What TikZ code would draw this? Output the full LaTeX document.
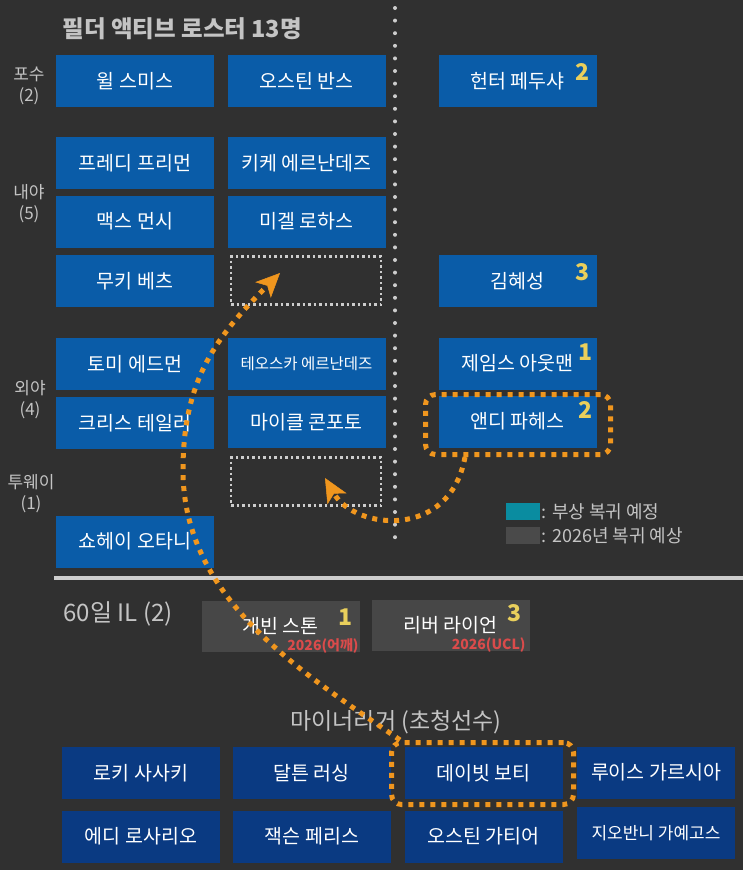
\documentclass[tikz,border=0pt]{standalone}
\usepackage{fontspec}
\setmainfont{Noto Sans CJK KR}
\usetikzlibrary{arrows.meta}
\usepackage{xcolor}

\definecolor{bgcol}{HTML}{303030}
\definecolor{rosterblue}{HTML}{0A5CA8}
\definecolor{minorblue}{HTML}{0A3A82}
\definecolor{ilgray}{HTML}{474747}
\definecolor{injteal}{HTML}{0A8CA0}
\definecolor{keygray}{HTML}{4A4A4A}
\definecolor{labelgray}{HTML}{C4C4C4}
\definecolor{numyellow}{HTML}{E9CF5C}
\definecolor{redtxt}{HTML}{DA4B4B}
\definecolor{movorange}{HTML}{F0961E}
\definecolor{linegray}{HTML}{CDCDCD}

\begin{document}
\begin{tikzpicture}[x=1pt,y=-1pt,
  player/.style={fill=rosterblue,text=white,minimum width=158pt,minimum height=52pt,inner sep=0pt,font=\fontsize{19.5}{19.5}\selectfont},
  minor/.style={player,fill=minorblue},
  ilbox/.style={player,fill=ilgray,minimum height=51pt},
  vacant/.style={draw=linegray,line width=2.5pt,dash pattern=on 2.5pt off 3pt,minimum width=150pt,minimum height=48pt},
  hlbox/.style={draw=movorange,line width=5pt,dash pattern=on 5pt off 6pt,rounded corners=10pt},
  rowlabel/.style={text=labelgray,align=center,font=\fontsize{17}{21}\selectfont},
  badge/.style={text=numyellow,inner sep=0pt,font=\fontsize{23}{23}\selectfont\bfseries},
  ilnote/.style={text=redtxt,anchor=east,inner sep=0pt,font=\fontsize{14}{14}\selectfont\bfseries},
  keytext/.style={anchor=west,text=labelgray,font=\fontsize{18}{18}\selectfont},
  movearrow/.style={draw=movorange,line width=5pt,dash pattern=on 5pt off 6pt,-{Stealth[length=24pt,width=22pt,inset=6pt,line width=0.5pt]}}]

\fill[bgcol] (0,0) rectangle (743,870);

\node[anchor=west,text=labelgray,font=\fontsize{23.5}{23.5}\selectfont\bfseries] (title) at (59,29) {필더 액티브 로스터 13명};
\draw[linegray,line width=4pt,line cap=round,dash pattern=on 0pt off 12.6pt] (395,8) -- (395,545);
\draw[linegray,line width=4pt] (54,578) -- (743,578);

\node[rowlabel] (catcher) at (29,86) {포수\\(2)};
\node[rowlabel] (infield) at (29,204) {내야\\(5)};
\node[rowlabel] (outfield) at (30,400) {외야\\(4)};
\node[rowlabel] (twoway) at (31,494) {투웨이\\(1)};

\node[player] (smith) at (135,81) {윌 스미스};
\node[player] (barnes) at (306.5,81) {오스틴 반스};
\node[player] (pedusha) at (517.5,81) {헌터 페두샤};
\node[player] (freeman) at (135,163) {프레디 프리먼};
\node[player] (kike) at (306.5,163) {키케 에르난데즈};
\node[player] (muncy) at (135,221.5) {맥스 먼시};
\node[player] (rojas) at (306.5,221.5) {미겔 로하스};
\node[player] (betts) at (135,281) {무키 베츠};
\node[vacant] (vacinf) at (306,280.5) {};
\node[player] (kim) at (517.5,281) {김혜성};
\node[player] (edman) at (135,364) {토미 에드먼};
\node[player,font=\fontsize{15.5}{15.5}\selectfont] (teoscar) at (306.5,364) {테오스카 에르난데즈};
\node[player] (outman) at (517.5,363.5) {제임스 아웃맨};
\node[player] (taylor) at (135,423) {크리스 테일러};
\node[player] (conforto) at (306.5,422) {마이클 콘포토};
\node[player] (pages) at (517.5,421.5) {앤디 파헤스};
\node[vacant] (vactwo) at (306,481.5) {};
\node[player] (ohtani) at (135,541.5) {쇼헤이 오타니};

\node[badge] (pedushanum) at ([xshift=-14pt,yshift=-17pt]pedusha.north east) {2};
\node[badge] (kimnum) at ([xshift=-14pt,yshift=-17pt]kim.north east) {3};
\node[badge] (outmannum) at ([xshift=-11pt,yshift=-15pt]outman.north east) {1};
\node[badge] (pagesnum) at ([xshift=-11pt,yshift=-15pt]pages.north east) {2};

\node[fill=injteal,minimum width=34pt,minimum height=17pt,inner sep=0pt] (keyinj) at (523,511.5) {};
\node[keytext] (keyinjtext) at ([xshift=-2pt]keyinj.east) {: 부상 복귀 예정};
\node[fill=keygray,minimum width=34pt,minimum height=17pt,inner sep=0pt] (keyret) at (523,535.5) {};
\node[keytext] (keyrettext) at ([xshift=-2pt]keyret.east) {: 2026년 복귀 예상};

\node[rowlabel,anchor=west,font=\fontsize{24}{24}\selectfont] (iltitle) at (60,614) {60일 IL (2)};
\node[ilbox] (stone) at (280.5,626.5) {개빈 스톤};
\node[ilbox] (ryan) at (450.5,625) {리버 라이언};
\node[badge] (stonenum) at ([xshift=-14pt,yshift=-16pt]stone.north east) {1};
\node[badge] (ryannum) at ([xshift=-15pt,yshift=-14pt]ryan.north east) {3};
\node[ilnote] (stonenote) at ([xshift=-1pt,yshift=6pt]stone.south east) {2026(어깨)};
\node[ilnote] (ryannote) at ([xshift=-4pt,yshift=6pt]ryan.south east) {2026(UCL)};

\node[rowlabel,font=\fontsize{23}{23}\selectfont] (minortitle) at (396,722) {마이너리거 (초청선수)};
\node[minor] (sasaki) at (141,773) {로키 사사키};
\node[minor] (rushing) at (311.5,773) {달튼 러싱};
\node[minor] (bote) at (483.5,773) {데이빗 보티};
\node[minor] (garcia) at (656,772.5) {루이스 가르시아};
\node[minor] (rosario) at (141,836.5) {에디 로사리오};
\node[minor] (ferris) at (312,836.5) {잭슨 페리스};
\node[minor] (gauthier) at (483.5,836.5) {오스틴 가티어};
\node[minor,font=\fontsize{17}{17}\selectfont] (gallegos) at (656,833) {지오반니 가예고스};

\node[hlbox,minimum width=185pt,minimum height=60pt] (pageshl) at (518,424.5) {};
\node[hlbox,minimum width=182pt,minimum height=62pt] (botehl) at (482.5,773.5) {};

\coordinate (bend) at (183,470);
\draw[movearrow] ([xshift=11pt]botehl.north west) .. controls (302,672) and (183,600) .. (bend)
  .. controls (183,380) and (216,337) .. ([xshift=-26pt,yshift=7.5pt]vacinf.center);
\draw[movearrow] ([xshift=42pt]pageshl.south west) .. controls (450,540) and (355,530) .. ([xshift=19pt,yshift=3.5pt]vactwo.center);
\end{tikzpicture}
\end{document}
